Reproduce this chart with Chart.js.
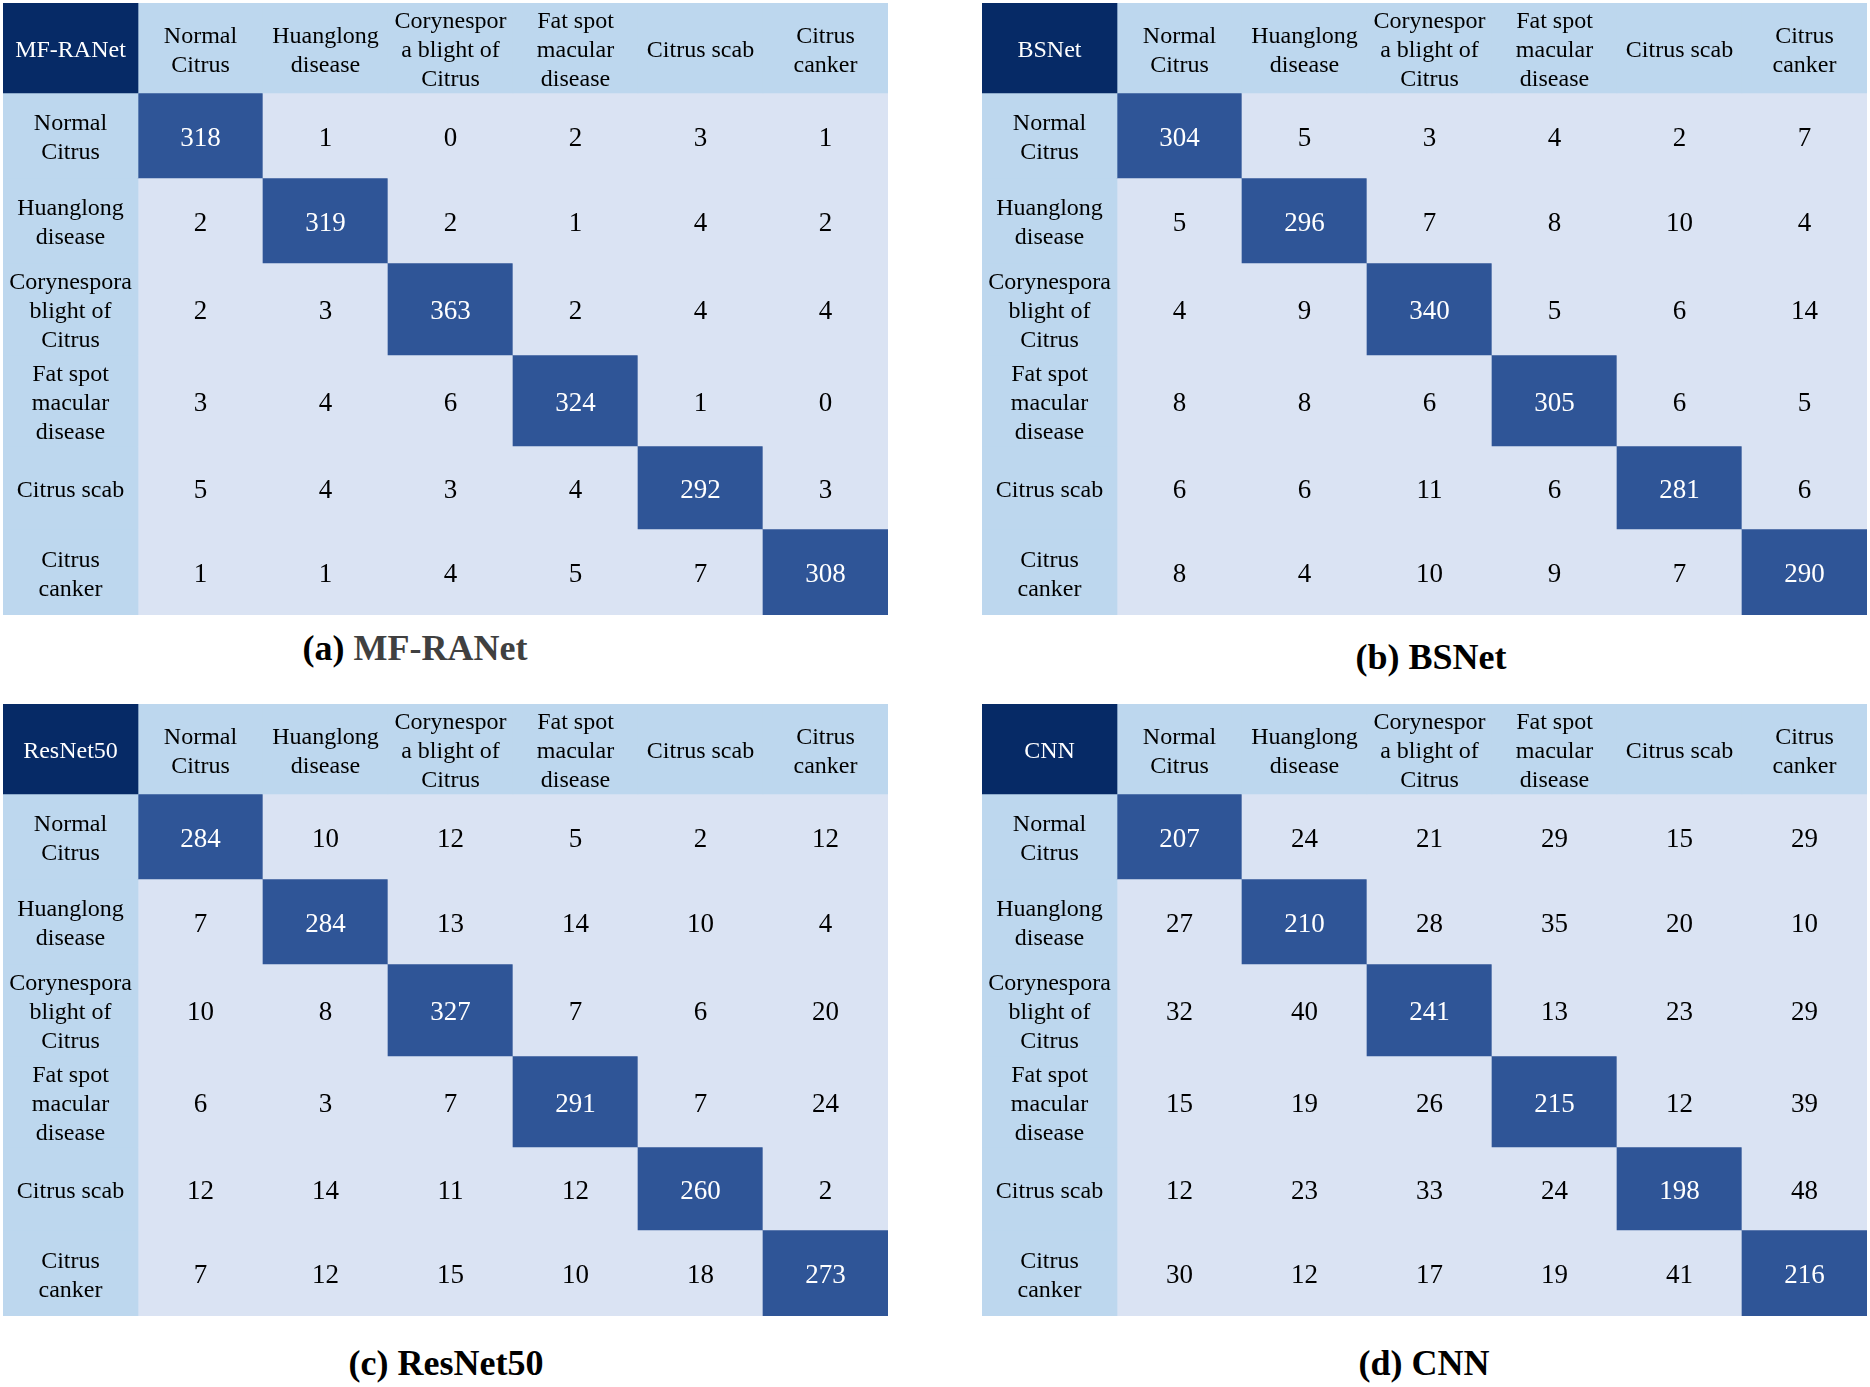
<!DOCTYPE html>
<html lang="en">
<head>
<meta charset="UTF-8">
<title>Confusion matrices</title>
<script src="https://cdn.jsdelivr.net/npm/chart.js@4.4.1/dist/chart.umd.min.js"></script>
<style>
    html, body { margin: 0; padding: 0; background: #ffffff; }
    body { width: 1870px; height: 1387px; position: relative; overflow: hidden; font-family: "Liberation Serif", "Times New Roman", serif; }
    .panel { position: absolute; width: 885px; height: 612px; }
    .caption { position: absolute; transform: translateX(-50%); font-weight: bold; font-size: 36px; line-height: 36px; white-space: nowrap; color: #000; }
    .caption .gray { color: #404040; }
</style>
</head>
<body>
<div class="panel" style="left:3px; top:3px;"><canvas id="matrixA"></canvas></div>
<div class="panel" style="left:982px; top:3px;"><canvas id="matrixB"></canvas></div>
<div class="panel" style="left:3px; top:704px;"><canvas id="matrixC"></canvas></div>
<div class="panel" style="left:982px; top:704px;"><canvas id="matrixD"></canvas></div>

<div class="caption" style="left:415px; top:630px;">(a) <span class="gray">MF-RANet</span></div>
<div class="caption" style="left:1431px; top:639px;">(b) BSNet</div>
<div class="caption" style="left:446px; top:1345px;">(c) ResNet50</div>
<div class="caption" style="left:1424px; top:1345px;">(d) CNN</div>

<script>
// --- 1. DATA ---
const classNames = ['Normal Citrus', 'Huanglong disease', 'Corynespora blight of Citrus',
    'Fat spot macular disease', 'Citrus scab', 'Citrus canker'];

// tick labels, wrapped the way the table wraps them
const colTickLabels = [['Normal', 'Citrus'], ['Huanglong', 'disease'], ['Corynespor', 'a blight of', 'Citrus'],
    ['Fat spot', 'macular', 'disease'], ['Citrus scab'], ['Citrus', 'canker']];
const rowTickLabels = [['Normal', 'Citrus'], ['Huanglong', 'disease'], ['Corynespora', 'blight of', 'Citrus'],
    ['Fat spot', 'macular', 'disease'], ['Citrus scab'], ['Citrus', 'canker']];

const mfRanet = [
    [318, 1, 0, 2, 3, 1],
    [2, 319, 2, 1, 4, 2],
    [2, 3, 363, 2, 4, 4],
    [3, 4, 6, 324, 1, 0],
    [5, 4, 3, 4, 292, 3],
    [1, 1, 4, 5, 7, 308]
];
const bsNet = [
    [304, 5, 3, 4, 2, 7],
    [5, 296, 7, 8, 10, 4],
    [4, 9, 340, 5, 6, 14],
    [8, 8, 6, 305, 6, 5],
    [6, 6, 11, 6, 281, 6],
    [8, 4, 10, 9, 7, 290]
];
const resNet50 = [
    [284, 10, 12, 5, 2, 12],
    [7, 284, 13, 14, 10, 4],
    [10, 8, 327, 7, 6, 20],
    [6, 3, 7, 291, 7, 24],
    [12, 14, 11, 12, 260, 2],
    [7, 12, 15, 10, 18, 273]
];
const cnn = [
    [207, 24, 21, 29, 15, 29],
    [27, 210, 28, 35, 20, 10],
    [32, 40, 241, 13, 23, 29],
    [15, 19, 26, 215, 12, 39],
    [12, 23, 33, 24, 198, 48],
    [30, 12, 17, 19, 41, 216]
];

// --- 2. LAYOUT & STYLE ---
const colWidths = [135, 125, 125, 125, 125, 125, 125];   // label column + 6 classes
const rowHeights = [90, 85, 85, 92, 91, 83, 86];          // header row + 6 classes
const colors = {
    corner: '#062a66',
    header: '#bdd7ee',
    cell: '#dae3f3',
    hit: '#2f5597'
};
const fontFamily = '"Liberation Serif", "Times New Roman", serif';
const labelSize = 24;
const valueSize = 27;
const lineHeight = 29;

const totalWidth = colWidths.reduce((a, b) => a + b, 0);
const totalHeight = rowHeights.reduce((a, b) => a + b, 0);
const colCenters = colWidths.map((w, i) => colWidths.slice(0, i).reduce((a, b) => a + b, 0) + w / 2);

// --- 3. DATASETS (every cell is a stacked bar) ---
function buildDatasets(modelName, matrix) {
    const datasets = [];
    rowHeights.forEach((h, r) => {
        const isHeader = r === 0;

        // left column: corner cell or row label
        datasets.push({
            stack: 'grid',
            barThickness: colWidths[0],
            data: [{ x: colCenters[0], y: h }],
            backgroundColor: isHeader ? colors.corner : colors.header,
            texts: [isHeader ? [modelName] : rowTickLabels[r - 1]],
            textColors: [isHeader ? '#ffffff' : '#000000'],
            fontSize: labelSize
        });

        // the 6 class columns
        const row = isHeader ? null : matrix[r - 1];
        datasets.push({
            stack: 'grid',
            barThickness: colWidths[1],
            data: classNames.map((_, c) => ({ x: colCenters[c + 1], y: h })),
            backgroundColor: classNames.map((_, c) =>
                isHeader ? colors.header : (c === r - 1 ? colors.hit : colors.cell)),
            texts: classNames.map((_, c) => isHeader ? colTickLabels[c] : [String(row[c])]),
            textColors: classNames.map((_, c) => (!isHeader && c === r - 1) ? '#ffffff' : '#000000'),
            fontSize: isHeader ? labelSize : valueSize
        });
    });
    return datasets;
}

// --- 4. TEXT INSIDE CELLS ---
const cellTextPlugin = {
    id: 'cellText',
    afterDatasetsDraw(chart) {
        const ctx = chart.ctx;
        chart.data.datasets.forEach((ds, i) => {
            const meta = chart.getDatasetMeta(i);
            meta.data.forEach((bar, j) => {
                const lines = ds.texts[j];
                const { x, y, base } = bar.getProps(['x', 'y', 'base'], true);
                const cy = (y + base) / 2;
                ctx.save();
                ctx.font = `${ds.fontSize}px ${fontFamily}`;
                ctx.fillStyle = ds.textColors[j];
                ctx.textAlign = 'center';
                ctx.textBaseline = 'alphabetic';
                lines.forEach((line, k) => {
                    const ly = cy + (k - (lines.length - 1) / 2) * lineHeight + ds.fontSize * 0.38;
                    ctx.fillText(line, x, ly);
                });
                ctx.restore();
            });
        });
    }
};

// --- 5. CHART ---
function drawMatrix(canvasId, modelName, matrix) {
    const ctx = document.getElementById(canvasId).getContext('2d');
    return new Chart(ctx, {
        type: 'bar',
        data: { datasets: buildDatasets(modelName, matrix) },
        options: {
            responsive: true,
            maintainAspectRatio: false,
            animation: false,
            events: [],
            layout: { padding: 0 },
            elements: { bar: { borderWidth: 0, borderRadius: 0 } },
            plugins: {
                legend: { display: false },
                tooltip: { enabled: false }
            },
            scales: {
                x: { type: 'linear', min: 0, max: totalWidth, offset: false, stacked: true, display: false },
                y: { type: 'linear', min: 0, max: totalHeight, stacked: true, reverse: true, display: false }
            }
        },
        plugins: [cellTextPlugin]
    });
}

document.addEventListener('DOMContentLoaded', function() {
    drawMatrix('matrixA', 'MF-RANet', mfRanet);
    drawMatrix('matrixB', 'BSNet', bsNet);
    drawMatrix('matrixC', 'ResNet50', resNet50);
    drawMatrix('matrixD', 'CNN', cnn);
});
</script>
</body>
</html>
